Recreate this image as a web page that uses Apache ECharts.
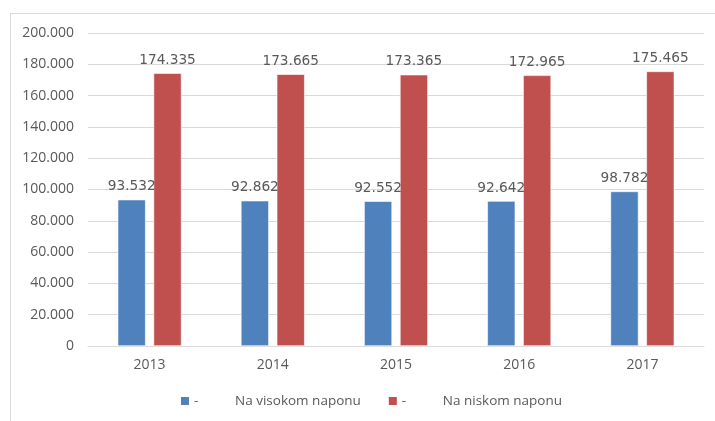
<!DOCTYPE html>
<html>
<head>
<meta charset="utf-8">
<script src="https://cdn.jsdelivr.net/npm/echarts@6/dist/echarts.min.js"></script>
<style>
  html, body { margin: 0; padding: 0; background: #fff; }
  #chart { width: 715px; height: 421px; }
</style>
</head>
<body>
<div id="chart"></div>
<script>
// podaci
var years = ['2013', '2014', '2015', '2016', '2017'];
var visokiNapon = [93532, 92862, 92552, 92642, 98782];
var niskiNapon = [174335, 173665, 173365, 172965, 175465];
var seriesNames = ['Na visokom naponu', 'Na niskom naponu'];

var txt = '#595959';
var font = 'Open Sans';

// 1234567 -> 1.234.567
function fmt(v) {
  return String(Math.round(v)).replace(/\B(?=(\d{3})+(?!\d))/g, '.');
}

var chart = echarts.init(document.getElementById('chart'));

function barSeries(name, data, color) {
  return {
    name,
    type: 'bar',
    data,
    barWidth: 28,
    barGap: '28%',
    itemStyle: {
      color,
      borderColor: '#fff',
      borderWidth: 0.6
    },
    label: {
      show: true,
      position: 'top',
      distance: 6,
      color: txt,
      fontFamily: 'DejaVu Sans',
      fontSize: 13.7,
      formatter: p => fmt(p.value)
    }
  };
}

chart.setOption({
  animation: false,
  textStyle: { fontFamily: font },
  graphic: [{
    type: 'rect',
    left: 8,
    top: 11,
    shape: { width: 720, height: 420 },
    style: { fill: 'none', stroke: '#D9D9D9', lineWidth: 1 },
    silent: true
  }],
  grid: {
    left: 88,
    right: 11,
    top: 33,
    bottom: 75
  },
  legend: {
    bottom: 8,
    left: 176,
    itemWidth: 8,
    itemHeight: 8,
    itemGap: 28,
    icon: 'rect',
    itemStyle: { borderWidth: 0 },
    data: seriesNames,
    formatter: name => `{a|-}{b|${name}}`,
    textStyle: {
      color: txt,
      fontFamily: font,
      fontSize: 13.5,
      rich: {
        a: { width: 41, color: txt, fontFamily: font, fontSize: 13.5 },
        b: { color: txt, fontFamily: font, fontSize: 13.5 }
      }
    }
  },
  xAxis: {
    type: 'category',
    data: years,
    axisTick: { show: false },
    axisLine: { lineStyle: { color: '#D9D9D9' } },
    axisLabel: { color: txt, fontFamily: font, fontSize: 14, margin: 12 }
  },
  yAxis: {
    type: 'value',
    min: 0,
    max: 200000,
    interval: 20000,
    axisLabel: {
      color: txt,
      fontFamily: font,
      fontSize: 14,
      margin: 14,
      formatter: v => fmt(v)
    },
    splitLine: { lineStyle: { color: '#D9D9D9' } }
  },
  series: [
    barSeries(seriesNames[0], visokiNapon, '#4F81BD'),
    barSeries(seriesNames[1], niskiNapon, '#C0504D')
  ]
});
</script>
</body>
</html>
